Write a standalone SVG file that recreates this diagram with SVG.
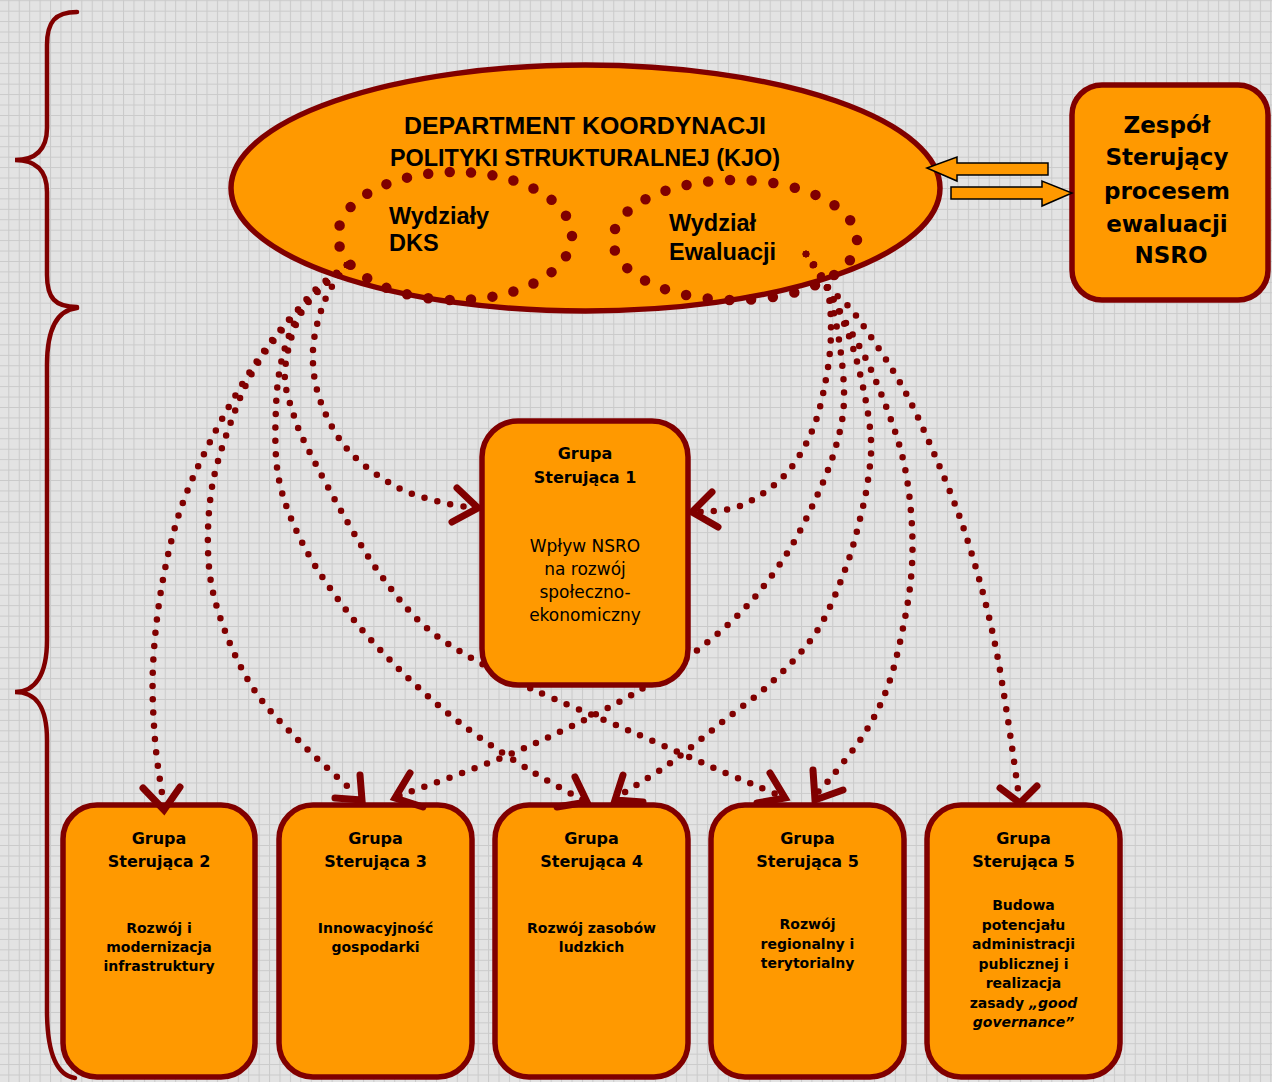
<svg xmlns="http://www.w3.org/2000/svg" width="1272" height="1082" viewBox="0 0 1272 1082">
<defs>
<pattern id="grid" width="10.43" height="10.43" patternUnits="userSpaceOnUse" x="8.3" y="0.24">
<rect width="10.43" height="10.43" fill="#e3e3e3"/>
<path d="M0,0.5 H10.43 M0.5,0 V10.43" stroke="#cacaca" stroke-width="1" fill="none"/>
</pattern>
</defs>
<style>
.brace{fill:none;stroke:#800000;stroke-width:4.5;stroke-linecap:round}
.node{fill:#ff9900;stroke:#800000;stroke-width:5.5}
.ring{fill:none;stroke:#800000;stroke-width:10.5;stroke-linecap:round}
.dots{fill:none;stroke:#800000;stroke-width:6.5;stroke-linecap:round;stroke-dasharray:0 13.3}
.head{fill:none;stroke:#800000;stroke-width:7;stroke-linecap:round;stroke-linejoin:miter}
.block{fill:#ff9900;stroke:#000;stroke-width:1.5}
.ar{font-family:"Liberation Sans",Arial,sans-serif;font-weight:bold;fill:#000}
.cg{font-family:"DejaVu Sans",sans-serif;fill:#000;text-anchor:middle}
.t{font-weight:bold;font-size:16px}
.s{font-weight:bold;font-size:14px}
</style>
<rect width="1272" height="1082" fill="url(#grid)"/>

<g id="braces">
<path class="brace" d="M77,12 C55,12 47,22 47,45 L47,128 C47,150 35,160 15,160 C35,160 47,170 47,192 L47,275 C47,298 55,307 77,307"/>
<path class="brace" d="M77,308 C57,310 47,330 47,365 L47,640 C47,675 35,692 15,692 C35,692 47,705 47,740 L47,1010 C47,1050 55,1075 75,1078"/>
</g>

<g id="kjo">
<ellipse class="node" cx="585.5" cy="188" rx="354.5" ry="123"/>
<text class="ar" x="585" y="134" font-size="24.5" text-anchor="middle" textLength="362" lengthAdjust="spacingAndGlyphs">DEPARTMENT KOORDYNACJI</text>
<text class="ar" x="585" y="166" font-size="24.5" text-anchor="middle" textLength="390" lengthAdjust="spacingAndGlyphs">POLITYKI STRUKTURALNEJ (KJO)</text>
</g>

<g id="dks">
<ellipse class="ring" cx="455" cy="236" rx="117" ry="64" stroke-dasharray="0 21.5"/>
<text class="ar" x="389" y="224" font-size="23.5">Wydziały</text>
<text class="ar" x="389" y="251" font-size="23.5">DKS</text>
</g>

<g id="ewaluacja">
<ellipse class="ring" cx="735" cy="240" rx="122" ry="60" stroke-dasharray="0 21.8"/>
<text class="ar" x="669" y="231" font-size="23.5">Wydział</text>
<text class="ar" x="669" y="260" font-size="23.5">Ewaluacji</text>
</g>

<g id="zespol">
<rect class="node" x="1072" y="85" width="196" height="215" rx="30" stroke-width="6"/>
<text class="cg" font-weight="bold" font-size="23">
<tspan x="1171" y="133">Zespół</tspan>
<tspan x="1171" y="165">Sterujący</tspan>
<tspan x="1171" y="199">procesem</tspan>
<tspan x="1171" y="232">ewaluacji</tspan>
<tspan x="1171" y="263">NSRO</tspan>
</text>
</g>

<g id="block-arrows">
<polygon class="block" points="927,168 957,157 957,163 1048,163 1048,175 957,175 957,181"/>
<polygon class="block" points="951,187 1042,187 1042,181 1072,193 1042,206 1042,199 951,199"/>
</g>

<g id="gs2">
<rect class="node" x="63" y="805" width="192" height="272" rx="34"/>
<text class="cg t"><tspan x="159" y="844">Grupa</tspan><tspan x="159" y="867">Sterująca 2</tspan></text>
<text class="cg s"><tspan x="159" y="933">Rozwój i</tspan><tspan x="159" y="952">modernizacja</tspan><tspan x="159" y="971">infrastruktury</tspan></text>
</g>

<g id="gs3">
<rect class="node" x="279" y="805" width="193" height="272" rx="34"/>
<text class="cg t"><tspan x="375.5" y="844">Grupa</tspan><tspan x="375.5" y="867">Sterująca 3</tspan></text>
<text class="cg s"><tspan x="375.5" y="933">Innowacyjność</tspan><tspan x="375.5" y="952">gospodarki</tspan></text>
</g>

<g id="gs4">
<rect class="node" x="495" y="805" width="193" height="272" rx="34"/>
<text class="cg t"><tspan x="591.5" y="844">Grupa</tspan><tspan x="591.5" y="867">Sterująca 4</tspan></text>
<text class="cg s"><tspan x="591.5" y="933">Rozwój zasobów</tspan><tspan x="591.5" y="952">ludzkich</tspan></text>
</g>

<g id="gs5a">
<rect class="node" x="711" y="805" width="193" height="272" rx="34"/>
<text class="cg t"><tspan x="807.5" y="844">Grupa</tspan><tspan x="807.5" y="867">Sterująca 5</tspan></text>
<text class="cg s"><tspan x="807.5" y="929">Rozwój</tspan><tspan x="807.5" y="948.5">regionalny i</tspan><tspan x="807.5" y="968">terytorialny</tspan></text>
</g>

<g id="gs5b">
<rect class="node" x="927" y="805" width="193" height="272" rx="34"/>
<text class="cg t"><tspan x="1023.5" y="844">Grupa</tspan><tspan x="1023.5" y="867">Sterująca 5</tspan></text>
<text class="cg s"><tspan x="1023.5" y="910">Budowa</tspan><tspan x="1023.5" y="929.5">potencjału</tspan><tspan x="1023.5" y="949">administracji</tspan><tspan x="1023.5" y="968.5">publicznej i</tspan><tspan x="1023.5" y="988">realizacja</tspan><tspan x="1023.5" y="1007.5">zasady <tspan font-style="italic">„good</tspan></tspan><tspan x="1023.5" y="1027" font-style="italic">governance”</tspan></text>
</g>

<g id="connectors">
<path class="dots" d="M347,265 C343.3,270.8 330.7,285.8 325,300 S313.8,333.3 313,350 S314.2,383.3 320,400 S335.5,435.7 348,450 S379.7,477.3 395,486 S426.8,498.3 440,502 S468.3,507 474,508"/>
<path class="dots" d="M347,265 C342.2,269.2 328.2,280.3 318,290 S296.8,310.2 286,323 S265.2,348.2 253,367 S225,412.5 213,436 S189.5,483.2 181,508 S166.7,558.7 162,585 S154.2,640.2 153,666 S153.3,717.7 155,740 S161.7,790 163,800"/>
<path class="dots" d="M347,265 C341.8,269 325.5,279.8 316,289 S299.7,307.7 290,320 S267.2,347.8 258,363 S242.7,390.3 235,411 S216.3,461 212,487 S206.8,543 209,567 S217.3,610.3 225,631 S242.7,672.7 255,691 S282.2,723.8 299,741 S346.5,785.2 356,794"/>
<path class="dots" d="M347,265 C340,271.7 315.5,290.7 305,305 S288.8,334 284,351 S276.8,385.5 276,407 S274.2,456.5 279,480 S293.2,525.5 305,548 S333.5,594 350,615 S385,655.5 404,674 S442.8,709.8 464,726 S511.2,758.7 531,771 S574.3,795.2 583,800"/>
<path class="dots" d="M347,265 C339.7,272.5 313.3,292.5 303,310 S286.5,352.3 285,370 S289.8,402.2 294,416 S301,435.2 310,453 S336.3,502.8 348,523 S368.3,557.8 380,574 S404.5,607 418,620 S442,640.5 461,652 S503.8,675.8 532,689 S597.3,716.8 630,731 S702.8,763.2 728,774 S772.2,792.3 781,796"/>
<path class="dots" d="M806,254 C809.3,259.2 821.8,272.3 826,285 S831,314.3 831,330 S829.2,362.2 826,379 S819,414.8 812,431 S796,463.5 784,476 S754.5,500 740,506 S704.2,511 697,512"/>
<path class="dots" d="M806,254 C809.3,259.2 820.5,270.7 826,285 S836,320.8 839,340 S844.5,382.3 844,400 S840.5,430 836,446 S825.3,477.8 817,496 S798,536.3 786,555 S760.2,591.8 745,608 S712.5,638.3 695,652 S660.8,677.5 640,690 S594,715.3 570,727 S524.5,748.5 496,760 S415.2,790 399,796"/>
<path class="dots" d="M806,254 C809.3,259.2 818.8,271.3 826,285 S842.8,319 849,336 S859.3,369.7 863,387 S870.2,424.5 871,440 S869.8,466.8 868,480 S863.8,504 860,519 S852.2,551.3 845,570 S829,612.5 817,631 S789,665.7 773,681 S738.3,709.2 721,723 S686.3,751.7 669,764 S625.7,791.5 617,797"/>
<path class="dots" d="M806,254 C809.3,259.2 819.3,273.5 826,285 S839.3,310.7 846,323 S859.2,344.7 866,359 S880.8,392.3 887,409 S899,441.8 903,459 S909.5,494.3 911,512 S913,547.3 912,565 S908.8,598.3 905,618 S895.5,664.2 889,683 S875.2,715.8 866,731 S842,763.8 834,774 S820.7,789 818,792"/>
<path class="dots" d="M806,254 C809.3,259.2 818.7,276 826,285 S842.2,298.8 850,308 S865.5,329 873,340 S888.2,362.5 895,374 S907.2,395 914,409 S929,441.7 936,458 S950.5,492.5 956,507 S964.3,530 969,545 S979.5,579.7 984,597 S992.5,631.7 996,649 S1002.2,683.5 1005,701 S1010.7,738 1013,754 S1018,789.8 1019,797"/>
<path class="head" d="M457,488 L478,508 L452,522"/>
<path class="head" d="M712,492 L692,512 L718,527"/>
<path class="head" d="M143,788 L164,810 L180,787"/>
<path class="head" d="M360,775 L362,800 L335,798"/>
<path class="head" d="M410,773 L395,798 L423,807"/>
<path class="head" d="M575,777 L587,802 L557,807"/>
<path class="head" d="M623,775 L615,800 L643,802"/>
<path class="head" d="M770,773 L785,798 L757,803"/>
<path class="head" d="M813,770 L815,800 L843,790"/>
<path class="head" d="M1000,788 L1020,803 L1037,786"/>
</g>

<g id="gs1">
<rect class="node" x="482" y="421" width="206" height="264" rx="36"/>
<text class="cg t"><tspan x="585" y="459">Grupa</tspan><tspan x="585" y="483">Sterująca 1</tspan></text>
<text class="cg" font-size="17"><tspan x="585" y="552">Wpływ NSRO</tspan><tspan x="585" y="575">na rozwój</tspan><tspan x="585" y="598">społeczno-</tspan><tspan x="585" y="621">ekonomiczny</tspan></text>
</g>
</svg>
